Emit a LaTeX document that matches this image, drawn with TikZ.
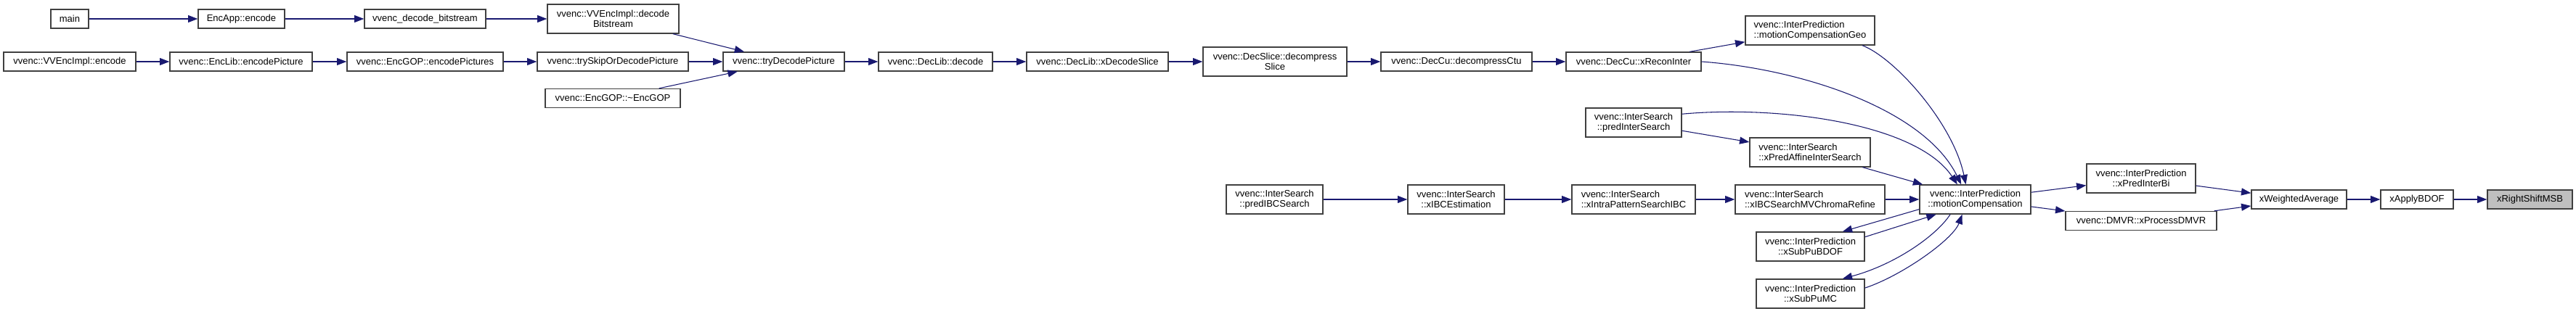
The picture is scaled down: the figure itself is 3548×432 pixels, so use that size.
\documentclass[tikz,border=0pt]{standalone}
\usepackage{fontspec}
\usepackage{tikz}
\usetikzlibrary{arrows.meta, positioning}
\newfontfamily\dxfont{Liberation Sans}
\definecolor{edgeblue}{RGB}{25,25,112}
\definecolor{boxline}{RGB}{64,64,64}
\definecolor{boxgray}{RGB}{191,191,191}
\newcommand{\px}{0.75pt}
\tikzset{
  fn/.style={rectangle, draw=boxline, fill=white, line width=1pt,
    inner sep=0pt, minimum height=26*\px, align=center,
    font=\dxfont\fontsize{9.75}{10.5}\selectfont},
  fntwo/.style={fn, minimum height=40*\px},
  fnleft/.style={fntwo, align=left},
  arrow/.style={-{Triangle[length=10pt,width=7.5pt]}, line width=0.8pt, color=edgeblue}
}
\begin{document}
\begin{tikzpicture}[x=\px, y=-\px]
  \useasboundingbox (0,0) rectangle (3548,432);

  % Caller chain, top rows
  \node[fn, minimum width=52*\px] (main) at (96,26) {main};
  \node[fn, minimum width=119*\px] (encapp) at (332.5,26) {EncApp::encode};
  \node[fn, minimum width=167*\px] (decbs) at (585.5,26) {vvenc\_decode\_bitstream};
  \node[fntwo, minimum width=181*\px] (implbs) at (844.5,26) {vvenc::VVEncImpl::decode\\Bitstream};

  \node[fn, minimum width=182*\px] (implenc) at (96,85) {vvenc::VVEncImpl::encode};
  \node[fn, minimum width=196*\px] (encpic) at (332,85) {vvenc::EncLib::encodePicture};
  \node[fn, minimum width=215*\px] (encpics) at (585.5,85) {vvenc::EncGOP::encodePictures};
  \node[fn, minimum width=208*\px] (tryskip) at (844,85) {vvenc::trySkipOrDecodePicture};
  \node[fn, minimum width=186*\px] (dtor) at (844,135.5) {vvenc::EncGOP::\textasciitilde EncGOP};

  % Decoder chain
  \node[fn, minimum width=167*\px] (trydec) at (1079.5,85) {vvenc::tryDecodePicture};
  \node[fn, minimum width=157*\px] (declib) at (1288.5,85) {vvenc::DecLib::decode};
  \node[fn, minimum width=195*\px] (xdecsl) at (1511.5,85) {vvenc::DecLib::xDecodeSlice};
  \node[fntwo, minimum width=198*\px] (decsl) at (1756,85) {vvenc::DecSlice::decompress\\Slice};
  \node[fn, minimum width=208*\px] (decctu) at (2006,85) {vvenc::DecCu::decompressCtu};
  \node[fn, minimum width=186*\px] (xrecon) at (2250,85) {vvenc::DecCu::xReconInter};
  \node[fnleft, minimum width=178*\px] (mcgeo) at (2493,42) {vvenc::InterPrediction\\::motionCompensationGeo};

  % Inter search
  \node[fntwo, minimum width=132*\px] (predinter) at (2250,169) {vvenc::InterSearch\\::predInterSearch};
  \node[fnleft, minimum width=166*\px] (xaffine) at (2493,210) {vvenc::InterSearch\\::xPredAffineInterSearch};

  % IBC chain
  \node[fntwo, minimum width=133*\px] (predibc) at (1755.5,275) {vvenc::InterSearch\\::predIBCSearch};
  \node[fntwo, minimum width=133*\px] (xibcest) at (2005.5,275) {vvenc::InterSearch\\::xIBCEstimation};
  \node[fnleft, minimum width=170*\px] (xintra) at (2250,275) {vvenc::InterSearch\\::xIntraPatternSearchIBC};
  \node[fnleft, minimum width=206*\px] (xchroma) at (2493,275) {vvenc::InterSearch\\::xIBCSearchMVChromaRefine};
  \node[fntwo, minimum width=149*\px] (subbdof) at (2493.5,340) {vvenc::InterPrediction\\::xSubPuBDOF};
  \node[fntwo, minimum width=149*\px] (submc) at (2493.5,405) {vvenc::InterPrediction\\::xSubPuMC};

  % Motion compensation and callees
  \node[fntwo, minimum width=153*\px] (mcomp) at (2720.5,275) {vvenc::InterPrediction\\::motionCompensation};
  \node[fntwo, minimum width=150*\px] (predbi) at (2949,246) {vvenc::InterPrediction\\::xPredInterBi};
  \node[fn, minimum width=208*\px] (dmvr) at (2949,304.5) {vvenc::DMVR::xProcessDMVR};
  \node[fn, minimum width=131*\px] (wavg) at (3166.5,275) {xWeightedAverage};
  \node[fn, minimum width=100*\px] (bdof) at (3329,275) {xApplyBDOF};
  \node[fn, fill=boxgray, minimum width=117*\px] (rshift) at (3484.5,275) {xRightShiftMSB};

  % Connections
  \draw[arrow] (main) -- (encapp);
  \draw[arrow] (encapp) -- (decbs);
  \draw[arrow] (decbs) -- (implbs);
  \draw[arrow] (implbs) -- (trydec);
  \draw[arrow] (implenc) -- (encpic);
  \draw[arrow] (encpic) -- (encpics);
  \draw[arrow] (encpics) -- (tryskip);
  \draw[arrow] (tryskip) -- (trydec);
  \draw[arrow] (dtor) -- (trydec);

  \draw[arrow] (trydec) -- (declib);
  \draw[arrow] (declib) -- (xdecsl);
  \draw[arrow] (xdecsl) -- (decsl);
  \draw[arrow] (decsl) -- (decctu);
  \draw[arrow] (decctu) -- (xrecon);
  \draw[arrow] (xrecon) -- (mcgeo);
  \draw[arrow] (xrecon.east) .. controls (2480,95) and (2650,150) .. (mcomp.133);
  \draw[arrow] (mcgeo.-16) .. controls (2610,80) and (2690,170) .. (mcomp.122);

  \draw[arrow] (predinter.10) .. controls (2450,145) and (2640,170) .. (mcomp.140);
  \draw[arrow] (predinter) -- (xaffine);
  \draw[arrow] (xaffine) -- (mcomp);

  \draw[arrow] (predibc) -- (xibcest);
  \draw[arrow] (xibcest) -- (xintra);
  \draw[arrow] (xintra) -- (xchroma);
  \draw[arrow] (xchroma) -- (mcomp);

  \draw[arrow] (mcomp.190) -- (subbdof.25);
  \draw[arrow] (subbdof.10) -- (mcomp.-159);
  \draw[arrow] (mcomp.-149) .. controls (2667,325) and (2610,365) .. (submc.25);
  \draw[arrow] (submc.6) .. controls (2620,380) and (2690,330) .. (mcomp.-131);

  \draw[arrow] (mcomp) -- (predbi);
  \draw[arrow] (mcomp) -- (dmvr);
  \draw[arrow] (predbi) -- (wavg);
  \draw[arrow] (dmvr) -- (wavg);
  \draw[arrow] (wavg) -- (bdof);
  \draw[arrow] (bdof) -- (rshift);
\end{tikzpicture}
\end{document}
